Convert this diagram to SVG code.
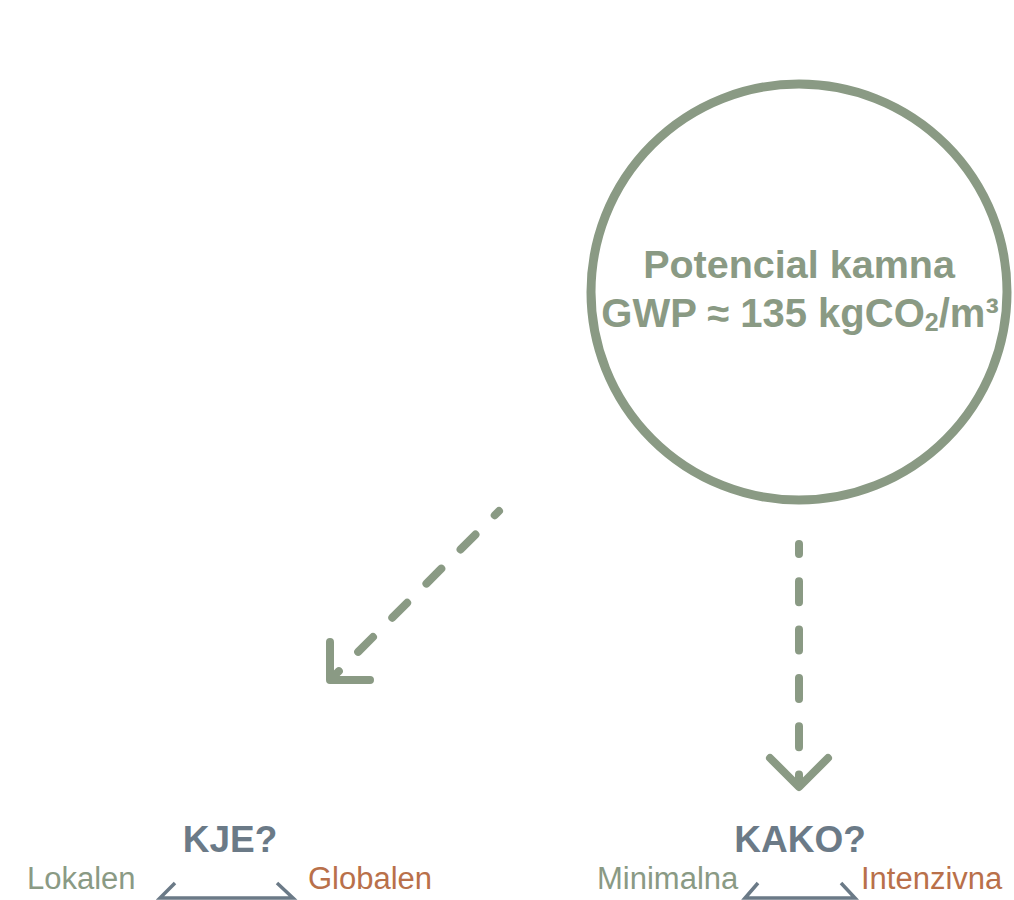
<svg xmlns="http://www.w3.org/2000/svg" width="1014" height="900" viewBox="0 0 1014 900">
  <style>
    .green { fill: #8a9a84; }
    .slate { fill: #6b7a87; }
    .orange { fill: #b9704a; }
    .title { font-family: "Liberation Sans", Arial, sans-serif; font-weight: bold; }
    .label { font-family: "Liberation Sans", Arial, sans-serif; font-size: 31px; }
    .dash { fill: none; stroke: #8a9a84; stroke-width: 8; stroke-linecap: round; stroke-linejoin: round; stroke-dasharray: 21 27.3; }
    .head { fill: none; stroke: #8a9a84; stroke-width: 8; stroke-linecap: round; stroke-linejoin: round; }
    .bracket { fill: none; stroke: #6b7a87; stroke-width: 3.5; stroke-linejoin: miter; }
  </style>
  <rect width="1014" height="900" fill="#ffffff"/>
  <g id="node-potencial">
    <circle cx="799" cy="292" r="208" fill="none" stroke="#8a9a84" stroke-width="9"/>
    <text class="title green" x="799" y="278" font-size="39.5" text-anchor="middle">Potencial kamna</text>
    <text class="title green" x="800" y="327" font-size="40" text-anchor="middle">GWP ≈ 135 kgCO<tspan font-size="25" dy="4">2</tspan><tspan dy="-4">/m³</tspan></text>
  </g>
  <g id="connectors">
    <line class="dash" x1="499" y1="511" x2="336" y2="674" stroke-dashoffset="15"/>
    <polyline class="head" points="330,642 330,680 370,680"/>
    <line class="dash" x1="799" y1="544" x2="799" y2="782" stroke-dashoffset="11"/>
    <polyline class="head" points="770,758 799,787 828,758"/>
  </g>
  <g id="node-kje">
    <text class="title slate" x="230" y="852" font-size="37" text-anchor="middle">KJE?</text>
    <text class="label green" x="27" y="889">Lokalen</text>
    <text class="label orange" x="308" y="889">Globalen</text>
    <polyline class="bracket" points="175,883 160,898 293,898 277,883"/>
  </g>
  <g id="node-kako">
    <text class="title slate" x="800" y="852" font-size="37" text-anchor="middle">KAKO?</text>
    <text class="label green" x="597" y="889">Minimalna</text>
    <text class="label orange" x="861" y="889">Intenzivna</text>
    <polyline class="bracket" points="758,883 745,898 855,898 841,883"/>
  </g>
</svg>
